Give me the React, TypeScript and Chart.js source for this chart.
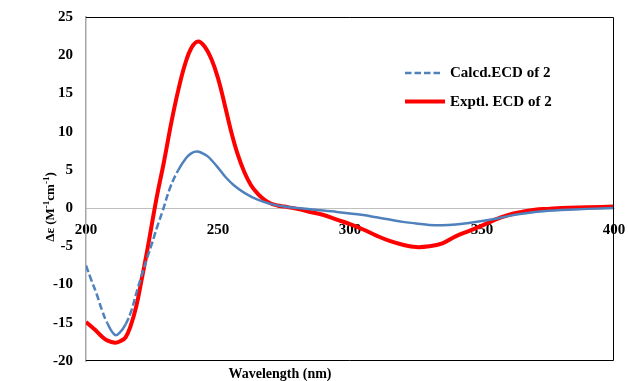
import React, { useEffect, useRef } from 'react';
import { Chart, registerables } from 'chart.js';
Chart.register(...registerables);

const exptlWavelengths = [200, 202, 204, 206, 208, 211, 213, 215, 217, 219, 221, 223, 225, 227, 229.5, 232.5, 235, 237.5, 240, 242.5, 245, 247.5, 250, 252.5, 255, 257.5, 260, 262.5, 265, 267.5, 270, 272.5, 275, 280, 285, 290, 295, 300, 305, 310, 315, 320, 325, 330, 335, 340, 345, 350, 355, 360, 365, 370, 375, 380, 390, 400];
const exptlValues = [-14.9, -15.5, -16.1, -16.8, -17.3, -17.6, -17.4, -16.9, -15.3, -12.9, -9.5, -5.9, -2.0, 1.8, 6.0, 11.5, 15.5, 18.8, 21.0, 21.8, 21.1, 19.5, 17.0, 13.6, 10.0, 7.0, 4.7, 3.0, 1.9, 1.1, 0.6, 0.35, 0.2, -0.1, -0.5, -0.9, -1.5, -2.1, -2.8, -3.6, -4.3, -4.8, -5.1, -5.0, -4.6, -3.7, -3.0, -2.3, -1.5, -0.9, -0.5, -0.2, -0.1, 0.0, 0.1, 0.2];

const calcdWavelengths = [200, 202, 204, 206, 208, 211, 213, 215, 217, 219, 221, 223, 225, 227, 229, 232, 235, 238, 240, 242, 244, 246, 248, 250, 253, 256, 260, 265, 270, 275, 280, 285, 290, 295, 300, 305, 310, 315, 320, 325, 330, 335, 340, 345, 350, 355, 360, 365, 370, 375, 380, 390, 400];
const calcdValues = [-7.5, -9.4, -11.2, -13.3, -15.0, -16.6, -16.2, -15.2, -13.6, -11.2, -8.9, -6.7, -4.6, -2.4, -0.4, 2.8, 5.0, 6.6, 7.2, 7.4, 7.2, 6.8, 6.1, 5.3, 4.0, 3.0, 2.0, 1.1, 0.55, 0.2, 0.0, -0.15, -0.3, -0.5, -0.7, -0.9, -1.2, -1.5, -1.8, -2.0, -2.2, -2.25, -2.15, -1.95, -1.7, -1.4, -1.05, -0.75, -0.5, -0.35, -0.25, -0.1, 0.0];

const xTickValues = [200, 250, 300, 350, 400];
const yTickValues = [-20, -15, -10, -5, 0, 5, 10, 15, 20, 25];
const seriesNames = ['Calcd.ECD of 2', 'Exptl. ECD of 2'];
const xTitle = 'Wavelength (nm)';

const SERIF = '"Liberation Serif", "Times New Roman", serif';
const BLUE = '#4F81BD';
const RED = '#FF0000';

const overlayPlugin = {
  id: 'overlay',
  afterDraw(chart: any) {
    const ctx = chart.ctx;
    const a = chart.chartArea;
    ctx.save();
    // frame (top, right, bottom)
    ctx.strokeStyle = '#000000';
    ctx.lineWidth = 1;
    ctx.beginPath();
    ctx.moveTo(a.left, a.top + 0.5);
    ctx.lineTo(a.right - 0.5, a.top + 0.5);
    ctx.lineTo(a.right - 0.5, a.bottom - 0.5);
    ctx.lineTo(a.left, a.bottom - 0.5);
    ctx.stroke();

    // x title
    ctx.fillStyle = '#000';
    ctx.font = 'bold 14px ' + SERIF;
    ctx.textAlign = 'center';
    ctx.textBaseline = 'alphabetic';
    ctx.fillText(xTitle, 280, 378);

    // y title with superscripts
    ctx.translate(50, 207);
    ctx.rotate(-Math.PI / 2);
    const parts: [string, boolean][] = [['Δε (M', false], ['-1', true], ['cm', false], ['-1', true], [')', false]];
    const mainFont = 'bold 13px ' + SERIF;
    const supFont = 'bold 9px ' + SERIF;
    let total = 0;
    for (const [t, sup] of parts) {
      ctx.font = sup ? supFont : mainFont;
      total += ctx.measureText(t).width;
    }
    let px = -total / 2;
    ctx.textAlign = 'left';
    for (const [t, sup] of parts) {
      ctx.font = sup ? supFont : mainFont;
      ctx.fillText(t, px, sup ? -1 : 4);
      px += ctx.measureText(t).width;
    }
    ctx.setTransform(1, 0, 0, 1, 0, 0);

    // legend
    ctx.lineCap = 'butt';
    ctx.strokeStyle = BLUE;
    ctx.lineWidth = 2.5;
    ctx.setLineDash([6.5, 3]);
    ctx.beginPath();
    ctx.moveTo(405, 73);
    ctx.lineTo(442, 73);
    ctx.stroke();
    ctx.setLineDash([]);
    ctx.strokeStyle = RED;
    ctx.lineWidth = 4;
    ctx.beginPath();
    ctx.moveTo(405, 101.5);
    ctx.lineTo(445, 101.5);
    ctx.stroke();
    ctx.fillStyle = '#000';
    ctx.font = 'bold 15px ' + SERIF;
    ctx.textAlign = 'left';
    ctx.textBaseline = 'middle';
    ctx.fillText(seriesNames[0], 450, 73);
    ctx.fillText(seriesNames[1], 450, 102);
    ctx.restore();
  },
};

export default function App() {
  const ref = useRef<HTMLCanvasElement | null>(null);
  useEffect(() => {
    document.body.style.margin = '0';
    const canvas = ref.current;
    if (!canvas) return;
    const calcd = calcdWavelengths.map((x, i) => ({ x, y: calcdValues[i] }));
    const exptl = exptlWavelengths.map((x, i) => ({ x, y: exptlValues[i] }));
    const chart = new Chart(canvas, {
      type: 'line',
      data: {
        datasets: [
          {
            label: seriesNames[0],
            data: calcd,
            borderColor: BLUE,
            borderWidth: 2.5,
            pointRadius: 0,
            fill: false,
            tension: 0.4,
            segment: {
              borderDash: (c: any) => {
                const dx = c.p1.x - c.p0.x;
                const dy = c.p1.y - c.p0.y;
                return Math.abs(dy / dx) > 2 ? [7, 3] : undefined;
              },
            },
          } as any,
          {
            label: seriesNames[1],
            data: exptl,
            borderColor: RED,
            borderWidth: 4,
            pointRadius: 0,
            fill: false,
            tension: 0.4,
          } as any,
        ],
      },
      options: {
        animation: false,
        responsive: false,
        layout: { padding: { top: 17, right: 14, bottom: 20, left: 0 } },
        plugins: { legend: { display: false }, tooltip: { enabled: false } },
        scales: {
          x: {
            type: 'linear',
            position: { y: 0 } as any,
            min: 200,
            max: 400,
            afterFit: (s: any) => { s.height = 0; s.paddingLeft = 0; s.paddingRight = 0; },
            afterBuildTicks: (s: any) => { s.ticks = xTickValues.map((v) => ({ value: v })); },
            grid: { display: false, drawTicks: false },
            border: { display: true, color: '#BFBFBF', width: 1 },
            ticks: {
              color: '#000',
              padding: 13,
              maxRotation: 0,
              font: { family: SERIF, size: 15, weight: 'bold' },
            },
          },
          y: {
            type: 'linear',
            min: -20,
            max: 25,
            afterFit: (s: any) => { s.width = 86; s.paddingTop = 0; s.paddingBottom = 0; },
            afterBuildTicks: (s: any) => { s.ticks = yTickValues.map((v) => ({ value: v })); },
            grid: { display: false, drawTicks: false },
            border: { display: true, color: '#A6A6A6', width: 1.5 },
            ticks: {
              color: '#000',
              padding: 13,
              font: { family: SERIF, size: 15, weight: 'bold' },
            },
          },
        },
      },
      plugins: [overlayPlugin],
    } as any);
    return () => chart.destroy();
  }, []);
  return (
    <div style={{ width: 628, height: 381 }}>
      <canvas ref={ref} width={628} height={381} style={{ display: 'block' }} />
    </div>
  );
}
